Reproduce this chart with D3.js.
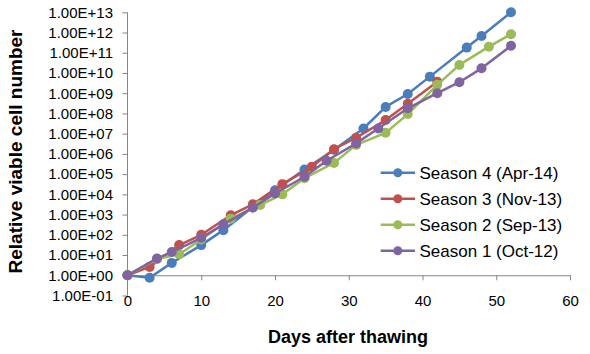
<!DOCTYPE html>
<html>
<head>
<meta charset="utf-8">
<script src="https://cdn.jsdelivr.net/npm/d3@7"></script>
<style>
  html, body { margin: 0; padding: 0; background: #fff; }
  svg { display: block; font-family: "Liberation Sans", Arial, sans-serif; }
</style>
</head>
<body>
<svg id="chart" width="590" height="354"></svg>
<script>
// ---- data ----
const seriesNames = ["Season 4 (Apr-14)", "Season 3 (Nov-13)", "Season 2 (Sep-13)", "Season 1 (Oct-12)"];
const seriesColors = ["#4A7EBB", "#C0504D", "#9BBB59", "#8064A2"];

const season4Days = [0, 3, 6, 10, 13, 17, 20, 24, 28, 32, 35, 38, 41, 46, 48, 52];
const season4Vals = [1, 0.76, 4.1, 31, 170, 2.4e3, 1.6e4, 1.7e5, 1.6e6, 1.8e7, 2.1e8, 9.1e8, 6.6e9, 1.8e11, 6.8e11, 1.0e13];

const season3Days = [0, 3, 7, 10, 14, 17, 21, 25, 28, 31, 35, 38, 42];
const season3Vals = [1, 2.6, 31, 100, 930, 3.2e3, 3.2e4, 2.3e5, 1.7e6, 6.3e6, 4.7e7, 3.0e8, 3.7e9];

const season2Days = [0, 4, 7, 10, 14, 18, 21, 24, 28, 31, 35, 38, 42, 45, 49, 52];
const season2Vals = [1, 6.3, 11, 59, 630, 3.0e3, 1.0e4, 6.3e4, 3.6e5, 2.8e6, 1.1e7, 9.3e7, 2.6e9, 2.5e10, 2.0e11, 8.3e11];

const season1Days = [0, 4, 6, 10, 13, 17, 20, 24, 27, 31, 34, 38, 42, 45, 48, 52];
const season1Vals = [1, 6.8, 14, 71, 330, 2.2e3, 1.1e4, 7.4e4, 4.6e5, 3.3e6, 1.8e7, 1.8e8, 1.0e9, 3.5e9, 1.7e10, 2.2e11];

const xTicks = [0, 10, 20, 30, 40, 50, 60];
const yTicks = [1e-1, 1e0, 1e1, 1e2, 1e3, 1e4, 1e5, 1e6, 1e7, 1e8, 1e9, 1e10, 1e11, 1e12, 1e13];
const yTickLabels = ["1.00E-01", "1.00E+00", "1.00E+01", "1.00E+02", "1.00E+03", "1.00E+04", "1.00E+05",
                     "1.00E+06", "1.00E+07", "1.00E+08", "1.00E+09", "1.00E+10", "1.00E+11", "1.00E+12", "1.00E+13"];
const xTitle = "Days after thawing";
const yTitle = "Relative viable cell number";

// ---- build ----
const series = [
  { name: seriesNames[0], color: seriesColors[0], days: season4Days, vals: season4Vals },
  { name: seriesNames[1], color: seriesColors[1], days: season3Days, vals: season3Vals },
  { name: seriesNames[2], color: seriesColors[2], days: season2Days, vals: season2Vals },
  { name: seriesNames[3], color: seriesColors[3], days: season1Days, vals: season1Vals }
];

const svg = d3.select("#chart");
const x = d3.scaleLinear().domain([0, 60]).range([127.5, 570]);
const y = d3.scaleLog().domain([1e-1, 1e13]).range([295.5, 12.3]);
const axisColor = "#868686";

// y axis
const yAxis = svg.append("g")
  .attr("transform", `translate(${x(0)},0)`)
  .call(d3.axisLeft(y).tickValues(yTicks).tickSize(5).tickPadding(9.5)
    .tickFormat((d, i) => yTickLabels[i]));
yAxis.select(".domain").attr("stroke", axisColor).attr("d", `M0,${y(1e-1)}V${y(1e13)}`);
yAxis.selectAll(".tick line").attr("stroke", axisColor);
yAxis.selectAll(".tick text").attr("font-size", 15).attr("fill", "#000")
  .attr("font-family", "'Liberation Sans', Arial, sans-serif");

// x axis at y = 1
const xAxis = svg.append("g")
  .attr("transform", `translate(0,${y(1)})`)
  .call(d3.axisBottom(x).tickValues(xTicks).tickSize(5).tickPadding(15).tickSizeOuter(0));
xAxis.select(".domain").attr("stroke", axisColor);
xAxis.selectAll(".tick line").attr("stroke", axisColor);
xAxis.selectAll(".tick text").attr("font-size", 15).attr("fill", "#000")
  .attr("font-family", "'Liberation Sans', Arial, sans-serif");

// series
const line = d3.line().x(d => x(d[0])).y(d => y(d[1]));
series.forEach(s => {
  const pts = s.days.map((d, i) => [d, s.vals[i]]);
  const g = svg.append("g");
  g.append("path").datum(pts).attr("d", line)
    .attr("fill", "none").attr("stroke", s.color).attr("stroke-width", 2.5)
    .attr("stroke-linejoin", "round");
  g.selectAll("circle").data(pts).join("circle")
    .attr("cx", d => x(d[0])).attr("cy", d => y(d[1])).attr("r", 5)
    .attr("fill", s.color);
});

// legend
const legend = svg.append("g");
series.forEach((s, i) => {
  const ly = 172.7 + i * 26;
  legend.append("line").attr("x1", 380.7).attr("x2", 415).attr("y1", ly).attr("y2", ly)
    .attr("stroke", s.color).attr("stroke-width", 2.5);
  legend.append("circle").attr("cx", 397.8).attr("cy", ly).attr("r", 4.5).attr("fill", s.color);
  legend.append("text").attr("x", 419.5).attr("y", ly).attr("dy", "0.35em")
    .attr("font-size", 17).attr("fill", "#000").text(s.name);
});

// titles
svg.append("text").attr("x", 348).attr("y", 343).attr("text-anchor", "middle")
  .attr("font-size", 18).attr("font-weight", "bold").attr("fill", "#000").text(xTitle);
svg.append("text").attr("transform", "translate(22,151.5) rotate(-90)").attr("text-anchor", "middle")
  .attr("font-size", 19).attr("font-weight", "bold").attr("fill", "#000").text(yTitle);
</script>
</body>
</html>
